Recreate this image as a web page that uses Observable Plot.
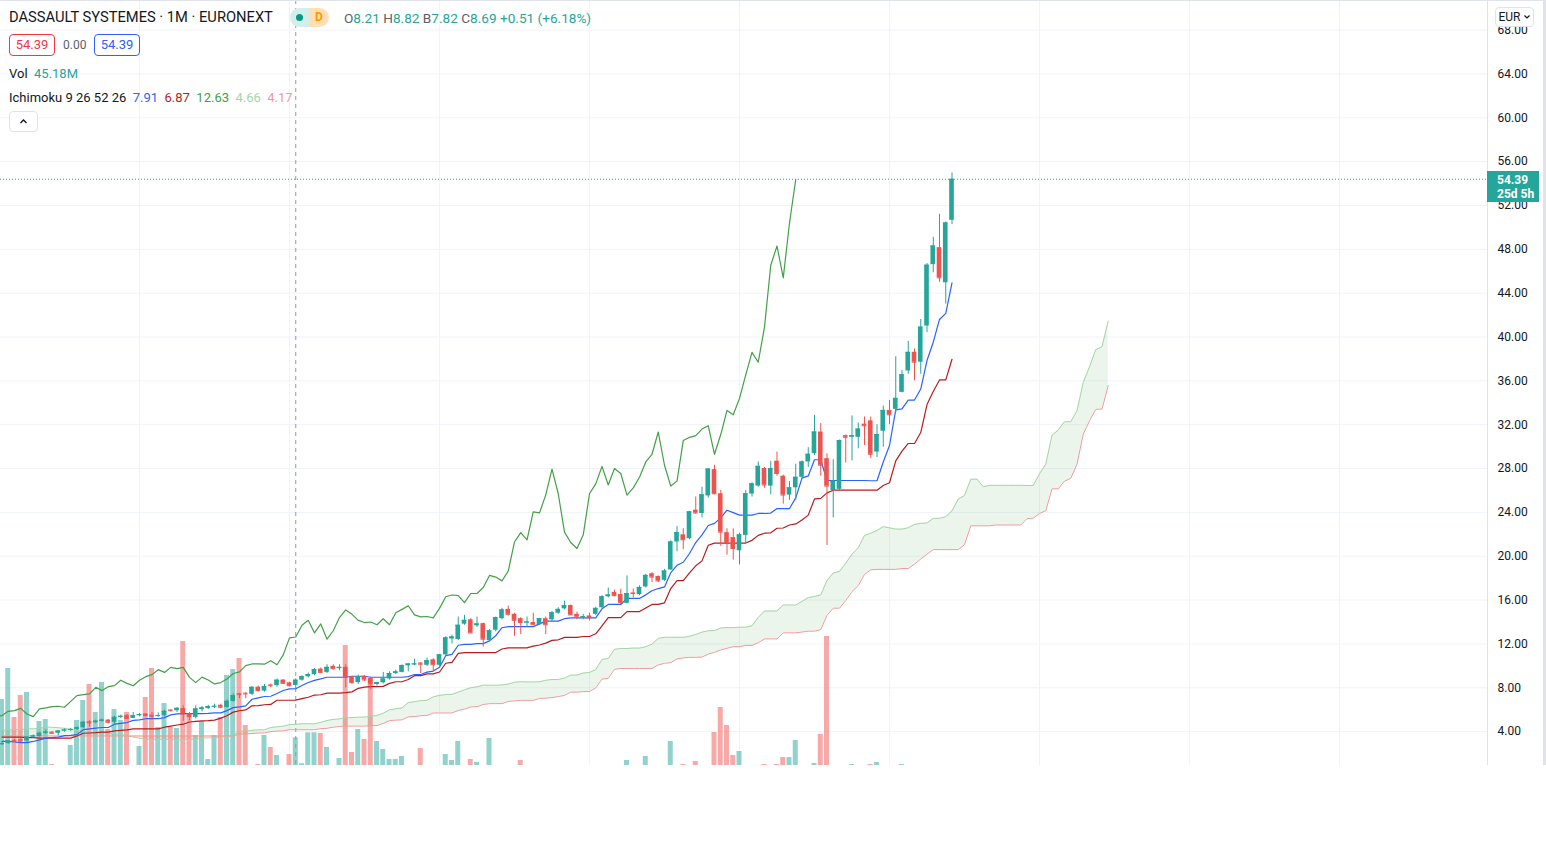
<!DOCTYPE html>
<html>
<head>
<meta charset="utf-8">
<script src="https://cdn.jsdelivr.net/npm/d3@7"></script>
<script src="https://cdn.jsdelivr.net/npm/@observablehq/plot@0.6"></script>
<style>
html,body{margin:0;padding:0;background:#fff;}
#wrap{position:relative;width:1546px;height:857px;overflow:hidden;background:#fff;font-family:Roboto,"Noto Sans",sans-serif;color:#131722;}
.layer{position:absolute;left:0;top:0;}
.abs{position:absolute;white-space:nowrap;}
.title{left:9px;top:8px;font-size:14.7px;line-height:18px;color:#131722;}
.pill{left:290px;top:8px;width:39px;height:19px;border-radius:10px;overflow:hidden;display:flex;}
.pill .a{width:19px;height:19px;background:#d4eeea;position:relative;}
.pill .a i{position:absolute;left:6px;top:6px;width:7px;height:7px;border-radius:50%;background:#089981;}
.pill .b{width:20px;height:19px;background:#ffe0b2;color:#ff9800;font-size:12px;font-weight:bold;line-height:19px;text-align:center;}
.ohlc{left:344px;top:10px;font-size:13.6px;line-height:16px;color:#26a69a;}
.ohlc b{font-weight:normal;color:#5d606b;}
.box{top:34px;height:20px;width:44px;border:1px solid;border-radius:4px;font-size:13px;line-height:20px;text-align:center;}
.spr{left:63px;top:37px;font-size:12px;line-height:16px;color:#5d606b;}
.vol{left:9px;top:66px;font-size:13px;line-height:16px;}
.ichi{left:9px;top:90px;font-size:13px;line-height:16px;}
.chev{left:9px;top:111px;width:27px;height:19px;border:1px solid #e0e3eb;border-radius:4px;background:#fff;}
.eur{left:1495px;top:7px;width:37px;height:18px;border:1px solid #e0e3eb;border-radius:4px;background:#fff;font-size:12px;line-height:18px;color:#131722;text-align:center;}
.plabel{left:1487px;width:52px;height:31px;background:#26a69a;color:#fff;font-size:12px;font-weight:bold;line-height:14px;box-sizing:border-box;padding:2px 0 0 10px;}
</style>
</head>
<body>
<div id="wrap"></div>
<script>
// ---- data: monthly candles, Mar 2009 (index 0) .. Nov 2021 (index 152) ----
const openPx = [2.8,2.9,3.2,3.25,3.15,3.5,3.55,3.85,3.95,3.85,
4.05,4.1,4.2,4.35,4.9,4.8,4.95,5.05,4.85,5.3,
5.45,5.2,5.45,5.6,5.5,5.4,5.46,5.97,5.9,6.1,
5.6,5.3,6.0,6.1,6.25,6.4,6.2,6.75,7.45,7.5,
7.4,8.05,7.7,8.25,8.2,8.7,8.45,8.21,8.69,9.0,
9.2,9.7,9.4,9.95,9.74,9.86,9.0,8.47,9.05,8.85,
8.3,8.45,8.8,9.3,9.4,10.0,10.1,10.25,10.05,10.55,
10.05,11.0,12.45,12.4,13.8,14.2,13.65,13.85,12.3,13.25,
14.3,15.15,14.7,14.3,13.9,13.95,13.75,14.3,14.2,14.8,
15.2,15.5,14.7,14.45,14.55,14.7,15.3,16.3,16.7,16.5,
15.7,16.65,16.5,17.2,18.4,18.15,17.8,18.75,21.3,21.95,
21.6,24.2,23.9,25.5,27.9,25.7,22.15,21.7,20.5,21.9,
25.67,26.4,28.0,26.4,28.67,27.3,25.58,26.24,27.2,28.6,
29.36,31.33,28.9,26.0,26.1,31.0,30.85,30.85,32.05,32.35,
29.5,31.4,33.3,33.4,34.95,36.9,38.6,37.7,41.0,46.6,
48.15,44.95,50.65];
const highPx = [3.0,3.2,3.3,3.35,3.55,3.7,3.9,4.15,4.0,4.1,
4.25,4.3,4.45,4.95,5.0,5.05,5.15,5.1,5.4,5.5,
5.55,5.75,5.65,5.65,5.75,5.7,5.95,6.0,6.2,6.35,
5.75,6.35,6.3,6.4,6.5,6.5,6.9,7.45,7.5,7.55,
8.1,8.15,8.3,8.35,8.8,8.75,8.5,8.82,9.1,9.35,
9.75,9.8,10.1,10.1,10.1,10.1,9.05,9.15,9.1,8.95,
8.5,9.4,9.45,9.6,10.1,10.2,10.6,10.3,10.7,10.65,
11.05,12.65,12.8,14.45,14.6,14.3,14.45,13.9,13.3,14.45,
15.25,15.45,14.8,14.4,14.45,14.8,14.3,14.45,14.95,15.3,
15.9,15.55,14.9,14.7,14.8,15.35,16.4,17.1,16.9,17.0,
18.2,17.0,17.3,18.35,18.5,18.2,18.8,21.4,22.7,22.5,
24.1,25.4,26.3,28.0,28.3,26.0,22.5,22.5,22.1,26.0,
26.7,28.6,28.1,28.67,29.5,27.4,26.8,28.4,28.7,29.9,
32.85,32.1,29.35,28.8,30.6,31.05,32.8,32.15,32.7,32.7,
32.0,33.7,34.2,38.2,36.95,39.6,38.9,41.6,46.7,49.1,
51.2,50.5,54.97];
const lowPx = [2.75,2.85,3.0,3.05,3.0,3.4,3.5,3.75,3.75,3.6,
3.95,4.0,4.1,4.3,4.4,4.7,4.85,4.7,4.6,5.2,
5.1,5.2,5.35,5.35,5.05,5.3,5.35,5.8,5.75,4.92,
5.0,5.15,5.8,6.0,6.1,6.1,6.15,6.7,7.0,7.0,
7.3,7.6,7.6,8.0,8.05,8.3,8.1,7.82,8.6,8.9,
9.1,9.3,9.3,9.6,9.55,8.0,8.3,8.3,8.6,7.82,
8.15,8.35,8.7,9.2,9.35,9.45,10.0,9.3,9.95,9.45,
9.95,10.9,12.0,12.3,13.7,12.95,13.5,11.7,12.2,13.1,
14.2,14.55,12.7,12.85,13.5,13.7,13.7,12.85,14.0,14.7,
15.1,14.6,14.2,14.2,14.1,14.6,15.2,16.2,16.3,15.6,
15.65,16.2,16.4,17.1,17.6,17.6,17.7,18.7,20.4,20.6,
21.5,23.8,23.5,25.3,25.6,20.9,20.1,19.65,19.2,21.15,
25.4,26.3,26.2,25.6,27.3,24.75,25.1,25.1,27.1,28.1,
29.2,27.3,20.97,23.5,26.0,28.5,28.7,29.8,30.1,28.9,
29.0,29.95,32.0,33.1,34.9,36.6,36.0,36.6,40.4,45.85,
45.0,43.0,50.25];
const closePx = [2.9,3.15,3.1,3.15,3.5,3.6,3.85,3.95,3.85,4.05,
4.15,4.2,4.35,4.85,4.8,4.95,5.05,4.85,5.3,5.4,
5.2,5.45,5.55,5.45,5.4,5.46,5.85,5.91,6.12,5.6,
5.37,6.07,6.16,6.28,6.31,6.22,6.76,7.28,7.37,7.44,
8.04,7.74,8.1,8.19,8.69,8.4,8.18,8.69,9.01,9.2,
9.65,9.4,9.86,9.74,9.86,8.95,8.47,8.97,8.71,8.35,
8.47,8.8,9.3,9.45,10.02,10.17,10.17,10.15,10.47,10.1,
11.0,12.55,12.63,13.7,14.15,13.0,13.82,12.43,13.2,14.4,
15.1,14.7,14.15,13.95,14.0,13.75,14.3,13.75,14.84,15.15,
15.48,14.65,14.47,14.5,14.38,15.24,16.3,16.46,16.4,15.76,
16.6,16.6,17.15,18.25,18.1,17.75,18.65,21.3,22.15,21.5,
24.05,23.95,25.6,27.95,25.7,22.2,21.25,20.7,21.95,25.7,
26.6,28.2,26.5,28.0,27.55,25.58,26.24,27.2,28.6,29.3,
31.33,28.3,26.4,26.85,30.55,30.85,31.0,31.6,31.9,29.3,
31.1,33.3,32.9,34.4,36.55,38.6,37.7,40.9,46.55,48.3,
45.4,50.4,54.39];
// volume, millions
const volumeM = [107.6,158.2,78.3,114.2,119.1,0,71.8,75.0,1.6,0,
0,32.6,73.4,106.0,132.1,86.4,135.4,58.7,91.3,73.4,
86.4,0,31.0,110.9,158.2,62.0,101.1,62.0,60.3,202.2,
84.8,48.9,71.8,9.8,48.9,78.3,146.8,156.6,174.5,65.2,
0,1.6,48.9,29.4,16.3,0,17.9,45.18,2.8,53.3,
53.3,52.2,29.4,0,11.4,195.7,21.2,58.7,42.4,141.9,
39.1,26.1,9.8,9.8,14.7,0,0,27.7,0,0,
0,17.9,8.2,39.1,0,9.8,4.9,0,44.0,0,
0,0,0,8.2,0,0,0,0,0,0,
0,0,0,0,0,0,0,0,0,0,
8.2,0,0,14.7,0,0,0,39.1,0,1.6,
0,6.5,0,0,53.8,94.6,65.2,16.3,22.8,0,
0,0,1.6,0,1.6,13.0,13.0,40.8,0,0,
3.3,50.6,210.4,0,0,0,1.6,0,0,1.6,
4.9,0,0,0,1.6,0,0,0,0,0,
0,0,0];
// Ichimoku values read off the picture where earlier history is not on the chart
const tenkanEarly = [3.1,3.1,3.05,3.0,3.0,3.1,3.25,3.4];
const kijunEarly = [3.5,3.5,3.5,3.5,3.45,3.45,3.4,3.4,3.4,3.4,3.4,3.4,3.6,3.85,3.87,3.9,3.95,3.95,4.07,4.12,4.15,4.25,4.25,4.25,4.25];
const spanAEarly = [4.15,4.15,4.2,4.2,4.25,4.25,4.3,4.4,4.4,4.35,4.3,4.2,4.1,4.0,3.95,3.9,3.9,3.85,3.8,3.75,3.6,3.5,3.4,3.3,3.25];
const spanBEarly = [3.6,3.6,3.6,3.6,3.6,3.6,3.6,3.6,3.6,3.6,
3.6,3.6,3.6,3.6,3.6,3.6,3.6,3.6,3.6,3.6,
3.6,3.6,3.6,3.6,3.6,3.6,3.6,3.6,3.6,3.6,
3.6,3.6,3.6,3.6,3.6,3.6,3.6,3.6,3.77,3.8,
3.82,3.87,3.87,4.0,4.05,4.07,4.17,4.17,4.17,4.17,
4.17,4.27,4.3,4.4,4.47,4.5,4.5,4.5,4.5,4.55,
4.55,4.75,5.0,5.05,5.07,5.35,5.37,5.45,5.47,5.7,
5.7,5.7,5.7,5.93,6.05,6.25];
const ichimokuParams = [9, 26, 52, 26];
// axis / grid
const priceTicks = [4,8,12,16,20,24,28,32,36,40,44,48,52,56,60,64,68];
const gridIdx = [22,46,70,94,118,142,166,190,214]; // January 2011, 2013, ... 2027
const cursorIdx = 47; // Feb 2013
const headerText = {
  title: "DASSAULT SYSTEMES · 1M · EURONEXT",
  o: "8.21", h: "8.82", l: "7.82", c: "8.69", chg: "+0.51 (+6.18%)",
  bid: "54.39", spread: "0.00", ask: "54.39", vol: "45.18M",
  ichi: ["7.91", "6.87", "12.63", "4.66", "4.17"],
  cd: "25d 5h"
};

// ---- build tables ----
const N = closePx.length;
const bars = closePx.map((c, i) => ({i, o: openPx[i], h: highPx[i], l: lowPx[i], c, v: volumeM[i]}));
function mid(i, len) {
  let hh = -Infinity, ll = Infinity;
  for (let k = i - len + 1; k <= i; k++) { hh = Math.max(hh, highPx[k]); ll = Math.min(ll, lowPx[k]); }
  return (hh + ll) / 2;
}
const [convLen, baseLen, spanLen, disp] = ichimokuParams;
const tenkan = bars.map(d => d.i >= convLen - 1 ? mid(d.i, convLen) : tenkanEarly[d.i]);
const kijun = bars.map(d => d.i >= baseLen - 1 ? mid(d.i, baseLen) : kijunEarly[d.i]);
const lineRows = bars.map(d => ({i: d.i, t: tenkan[d.i], k: kijun[d.i]}));
const lagRows = bars.map(d => ({x: d.i - (disp - 1), c: d.c}));
const cloud = [];
for (let j = 0; j < N + disp - 1; j++) {
  const s = j - (disp - 1);
  const a = s < 0 ? spanAEarly[j] : (tenkan[s] + kijun[s]) / 2;
  const b = s >= spanLen - 1 ? mid(s, spanLen) : spanBEarly[j];
  cloud.push({j, a, b});
}

// ---- scales ----
const W = 1546, H = 765, MR = 59;
const xDomain = [-0.24, 237.68];
const yDomain = [0.907, 70.70];
const volDomain = [0, 765 * 1.631];
const font = 'Roboto, "Noto Sans", sans-serif';
const base = {width: W, height: H, marginLeft: 0, marginRight: MR, marginTop: 0, marginBottom: 0,
  style: {background: "transparent", overflow: "visible", fontFamily: font, fontSize: "12px", color: "#131722"}};
const up = "#26a69a", dn = "#ef5350";
const isUp = d => d.c >= d.o;
const hw = 0.37;

const gridPlot = Plot.plot({...base,
  x: {type: "linear", domain: xDomain, axis: null},
  y: {domain: yDomain, axis: "right", ticks: priceTicks, tickFormat: d => d.toFixed(2), tickSize: 0, tickPadding: 10, label: null},
  marks: [
    Plot.ruleY(priceTicks, {stroke: "#f0f3fa", strokeWidth: 1}),
    Plot.ruleX(gridIdx, {stroke: "#f0f3fa", strokeWidth: 1})
  ]
});
const volPlot = Plot.plot({...base,
  x: {type: "linear", domain: xDomain, axis: null},
  y: {domain: volDomain, axis: null},
  marks: [
    Plot.rectY(bars.filter(d => d.v > 0), {x1: d => d.i - 0.4, x2: d => d.i + 0.4, y: "v",
      fill: d => isUp(d) ? "rgba(38,166,154,0.5)" : "rgba(239,83,80,0.5)", clip: true})
  ]
});
const pricePlot = Plot.plot({...base,
  x: {type: "linear", domain: xDomain, axis: null},
  y: {domain: yDomain, axis: null},
  marks: [
    Plot.ruleX([cursorIdx], {stroke: "#9598a1", strokeWidth: 1, strokeDasharray: "4,4"}),
    Plot.areaY(cloud, {x: "j", y1: "b", y2: d => Math.max(d.a, d.b), fill: "rgba(67,160,71,0.1)", curve: "linear", clip: true}),
    Plot.areaY(cloud, {x: "j", y1: "a", y2: d => Math.max(d.a, d.b), fill: "rgba(244,67,54,0.1)", curve: "linear", clip: true}),
    Plot.line(cloud, {x: "j", y: "a", stroke: "#a5d6a7", strokeWidth: 1, clip: true}),
    Plot.line(cloud, {x: "j", y: "b", stroke: "#ef9a9a", strokeWidth: 1, clip: true}),
    Plot.line(lagRows, {x: "x", y: "c", stroke: "#43a047", strokeWidth: 1.2, clip: true}),
    Plot.line(lineRows, {x: "i", y: "k", stroke: "#b71c1c", strokeWidth: 1.2, clip: true}),
    Plot.line(lineRows, {x: "i", y: "t", stroke: "#2962ff", strokeWidth: 1.2, clip: true}),
    Plot.ruleX(bars, {x: "i", y1: "l", y2: "h", stroke: d => isUp(d) ? up : dn, strokeWidth: 1, clip: true}),
    Plot.rect(bars, {x1: d => d.i - hw, x2: d => d.i + hw, y1: "o", y2: "c", fill: d => isUp(d) ? up : dn, clip: true}),
    Plot.ruleY(bars, {y: "c", x1: d => d.i - hw, x2: d => d.i + hw, stroke: d => isUp(d) ? up : dn, strokeWidth: 1, clip: true}),
    Plot.ruleY([closePx[N - 1]], {stroke: "#26a69a", strokeWidth: 1, strokeDasharray: "1,2"})
  ]
});

const wrap = document.getElementById("wrap");
for (const p of [gridPlot, volPlot, pricePlot]) { p.classList.add("layer"); p.style.position = "absolute"; wrap.appendChild(p); }

function add(cls, html, style) {
  const d = document.createElement("div");
  d.className = "abs " + cls;
  d.innerHTML = html;
  if (style) Object.assign(d.style, style);
  wrap.appendChild(d);
  return d;
}
// frame lines
add("", "", {left: "0px", top: "0px", width: "1543px", height: "1px", background: "#e0e3eb"});
add("", "", {left: "1487px", top: "0px", width: "1px", height: H + "px", background: "#e0e3eb"});
add("", "", {left: "1543px", top: "0px", width: "3px", height: H + "px", background: "#e0e3eb"});
// header
add("title", headerText.title);
add("pill", '<div class="a"><i></i></div><div class="b">D</div>');
add("ohlc", `<b>O</b>${headerText.o} <b>H</b>${headerText.h} <b>B</b>${headerText.l} <b>C</b>${headerText.c} ${headerText.chg}`);
add("box", headerText.bid, {left: "9px", borderColor: "#f23645", color: "#f23645"});
add("spr", headerText.spread);
add("box", headerText.ask, {left: "94px", borderColor: "#2962ff", color: "#2962ff"});
add("vol", `Vol&nbsp;&nbsp;<span style="color:#26a69a">${headerText.vol}</span>`);
add("ichi", `Ichimoku ${ichimokuParams.join(" ")}&nbsp;&nbsp;<span style="color:#2962ff">${headerText.ichi[0]}</span>&nbsp;&nbsp;<span style="color:#b71c1c">${headerText.ichi[1]}</span>&nbsp;&nbsp;<span style="color:#43a047">${headerText.ichi[2]}</span>&nbsp;&nbsp;<span style="color:#a5d6a7">${headerText.ichi[3]}</span>&nbsp;&nbsp;<span style="color:#ef9a9a">${headerText.ichi[4]}</span>`);
add("chev", '<svg width="27" height="19"><polyline points="10.5,11 13.5,8 16.5,11" fill="none" stroke="#131722" stroke-width="1.4"/></svg>');
add("eur", 'EUR<svg width="8" height="8" style="margin-left:2px"><polyline points="1.5,2.5 4,5 6.5,2.5" fill="none" stroke="#131722" stroke-width="1.2"/></svg>');
const yLast = pricePlot.scale("y").apply(closePx[N - 1]);
add("plabel", `${closePx[N - 1].toFixed(2)}<br>${headerText.cd}`, {top: Math.round(yLast - 8) + "px"});
</script>
</body>
</html>
